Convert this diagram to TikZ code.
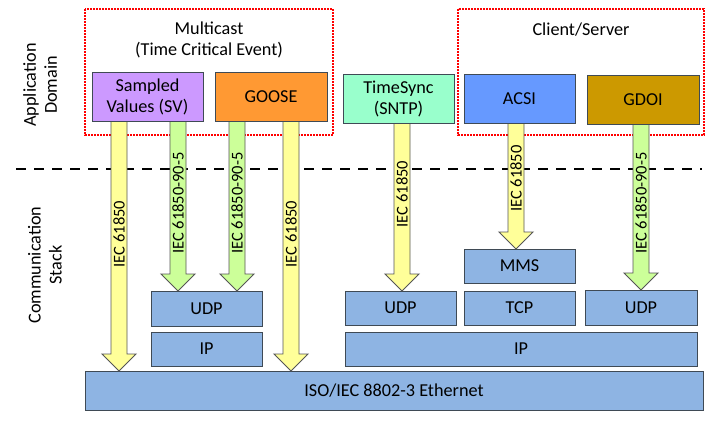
\documentclass[tikz,border=0pt]{standalone}
\usepackage{fontspec}
\setmainfont{Carlito}
\usetikzlibrary{calc}
\definecolor{stackblue}{HTML}{8EB4E3}
\definecolor{edgegray}{HTML}{3F4A55}
\definecolor{svpurple}{HTML}{CC99FF}
\definecolor{gooseorange}{HTML}{FF9933}
\definecolor{syncgreen}{HTML}{99FFCC}
\definecolor{acsiblue}{HTML}{6699FF}
\definecolor{gdoigold}{HTML}{CC9900}
\definecolor{arrowyellow}{HTML}{FFFF99}
\definecolor{arrowgreen}{HTML}{CCFF99}
\definecolor{arrowedge}{HTML}{555555}
\definecolor{groupred}{HTML}{FF0000}
\newcommand\mainfs{\fontsize{18.2}{21}\selectfont}
\newcommand\lblfs{\fontsize{16.5}{19}\selectfont}
\newcommand\fatarrow[3]{%
  \path let \p1=(#1), \p2=(#2) in
    [draw=arrowedge, line width=0.9pt, fill=#3, line join=miter]
    (\x1-8pt,\y1) -- (\x1-8pt,\y2+17pt) -- (\x1-17pt,\y2+17pt) -- (\x1,\y2)
    -- (\x1+17pt,\y2+17pt) -- (\x1+8pt,\y2+17pt) -- (\x1+8pt,\y1) -- cycle;}
\begin{document}
\begin{tikzpicture}[x=1pt,y=-1pt,
  group/.style={draw=groupred, dash pattern=on 2pt off 1pt, line width=1.4pt},
  appbox/.style={draw=edgegray, line width=1pt, font=\mainfs, align=center, inner sep=0pt},
  stackbox/.style={draw=edgegray, line width=1pt, fill=stackblue, font=\mainfs, inner sep=0pt},
  lbl/.style={rotate=90, font=\lblfs, inner sep=0pt},
  side/.style={rotate=90, font=\mainfs, align=center, inner sep=0pt}]
\useasboundingbox (0,0) rectangle (714,426);

% dashed separator
\coordinate (dl) at (16,169);
\coordinate (dr) at (702,169);
\draw[line width=2.2pt, dash pattern=on 10pt off 8pt] (dl) -- (dr);

% side labels
\node[side] (appdom) at (40,85) {Application\\Domain};
\node[side] (commst) at (45,265) {Communication\\Stack};

% groups
\draw[group] (458,9) rectangle (704,135);
\draw[group] (85,9) rectangle (333,135);
\node[font=\mainfs, align=center] (mc) at (209,40) {Multicast\\(Time Critical Event)};
\node[font=\mainfs] (cs) at (581,30) {Client/Server};

% stack boxes
\node[stackbox, minimum width=618pt, minimum height=39pt] (eth) at (394,390.5) {ISO/IEC 8802-3 Ethernet};
\node[stackbox, minimum width=111pt, minimum height=34pt] (ipl) at (206.5,349) {IP};
\node[stackbox, minimum width=111pt, minimum height=35pt] (udpl) at (206.5,308.5) {UDP};
\node[stackbox, minimum width=352pt, minimum height=34pt] (ipr) at (521,349) {IP};
\node[stackbox, minimum width=111pt, minimum height=34pt] (udpm) at (400.5,308) {UDP};
\node[stackbox, minimum width=111pt, minimum height=34pt] (tcp) at (519.5,308) {TCP};
\node[stackbox, minimum width=111pt, minimum height=34pt] (mms) at (519.5,266) {MMS};
\node[stackbox, minimum width=112pt, minimum height=35pt] (udpr) at (641,307.5) {UDP};

% arrows (start at app box bottom, end at target top)
\coordinate (a1s) at (119,121); \coordinate (a1e) at (119,371);
\coordinate (a2s) at (178,121); \coordinate (a2e) at (178,291);
\coordinate (a3s) at (237,121); \coordinate (a3e) at (237,291);
\coordinate (a4s) at (291,121); \coordinate (a4e) at (291,371);
\coordinate (a5s) at (402,123); \coordinate (a5e) at (402,291);
\coordinate (a6s) at (516,123); \coordinate (a6e) at (516,249);
\coordinate (a7s) at (641,124); \coordinate (a7e) at (641,290);
\fatarrow{a1s}{a1e}{arrowyellow}
\fatarrow{a2s}{a2e}{arrowgreen}
\fatarrow{a3s}{a3e}{arrowgreen}
\fatarrow{a4s}{a4e}{arrowyellow}
\fatarrow{a5s}{a5e}{arrowyellow}
\fatarrow{a6s}{a6e}{arrowyellow}
\fatarrow{a7s}{a7e}{arrowgreen}
\node[lbl] (l1) at (119,234) {IEC 61850};
\node[lbl] (l2) at (178,203) {IEC 61850-90-5};
\node[lbl] (l3) at (237,203) {IEC 61850-90-5};
\node[lbl] (l4) at (291,234) {IEC 61850};
\node[lbl] (l5) at (402,194) {IEC 61850};
\node[lbl] (l6) at (516,178.5) {IEC 61850};
\node[lbl] (l7) at (641,203) {IEC 61850-90-5};

% application boxes
\node[appbox, fill=svpurple, minimum width=111pt, minimum height=49pt] (sv) at (147.5,96.5) {Sampled\\Values (SV)};
\node[appbox, fill=gooseorange, minimum width=112pt, minimum height=49pt] (goose) at (271,96.5) {GOOSE};
\node[appbox, fill=syncgreen, minimum width=111pt, minimum height=49pt] (sync) at (398.5,98.5) {TimeSync\\(SNTP)};
\node[appbox, fill=acsiblue, minimum width=111pt, minimum height=49pt] (acsi) at (519.5,98.5) {ACSI};
\node[appbox, fill=gdoigold, minimum width=112pt, minimum height=49pt] (gdoi) at (643,99.5) {GDOI};
\end{tikzpicture}
\end{document}
